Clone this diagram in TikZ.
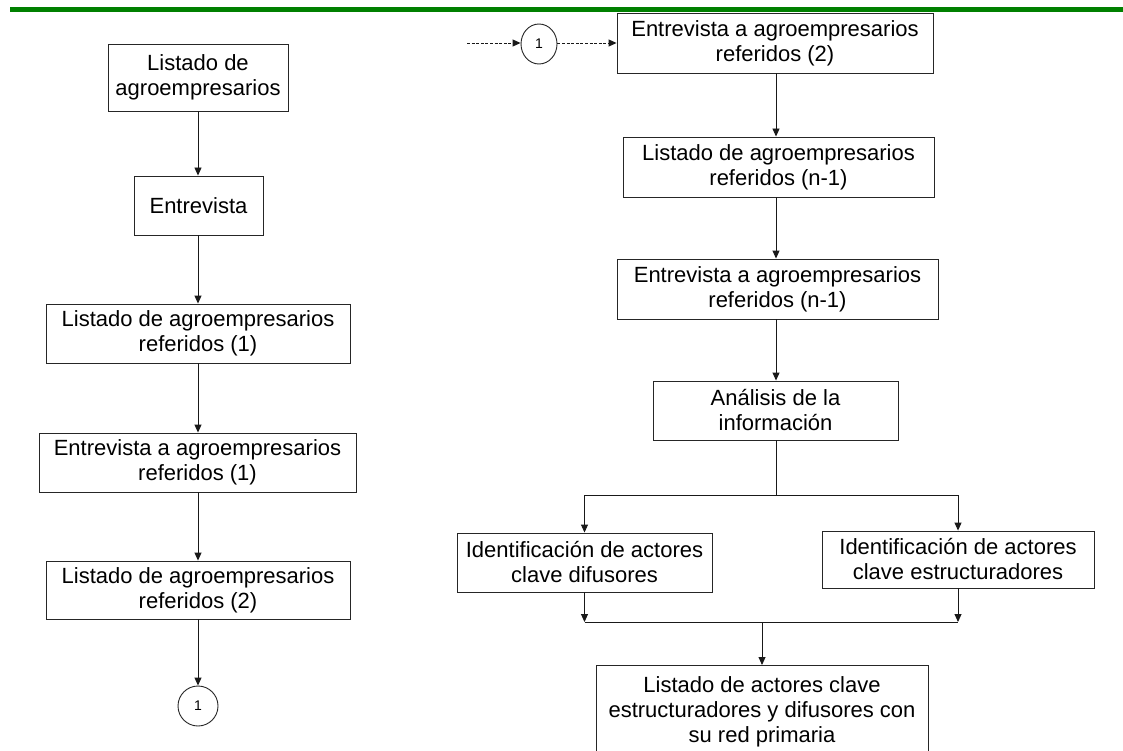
\documentclass[tikz,border=0pt]{standalone}
\usepackage{fontspec}
\setmainfont{Liberation Sans}
\usetikzlibrary{arrows.meta,shapes.geometric}
\definecolor{bandgreen}{RGB}{0,128,0}
\begin{document}
\begin{tikzpicture}[x=1pt,y=-1pt,
  box/.style={draw=black!85, line width=0.9pt, inner sep=0pt, align=center,
    font=\fontsize{22}{25}\selectfont},
  conn/.style={circle, draw=black!85, line width=0.9pt, inner sep=0pt,
    minimum size=40pt, font=\fontsize{14}{16}\selectfont},
  arr/.style={line width=0.9pt, draw=black!90, -{Triangle[length=8pt,width=7pt]}},
  plain/.style={line width=0.9pt, draw=black!90},
  dasharr/.style={arr, dash pattern=on 3pt off 1.6pt}]
\useasboundingbox (0,0) rectangle (1123,751);
\clip (0,0) rectangle (1123,751);
\fill[white] (0,0) rectangle (1123,751);

% header rule
\draw[bandgreen, line width=4.4pt] (10,9.5) -- (1123,9.5);

% left column
\node[box, minimum width=180pt, minimum height=67pt] (L1) at (198,77.5) {Listado de\\agroempresarios};
\node[box, minimum width=129pt, minimum height=59pt] (L2) at (198.5,205.5) {Entrevista};
\node[box, minimum width=304pt, minimum height=59pt] (L3) at (198,333.5) {Listado de agroempresarios\\referidos (1)};
\node[box, minimum width=317pt, minimum height=59pt] (L4) at (197.5,462.5) {Entrevista a agroempresarios\\referidos (1)};
\node[box, minimum width=304pt, minimum height=58pt] (L5) at (198,590) {Listado de agroempresarios\\referidos (2)};
\node[conn] (C1) at (198,706) {1};

\draw[arr] (L1.south) -- (L1.south |- L2.north);
\draw[arr] (L2.south -| L1.south) -- (L1.south |- L3.north);
\draw[arr] (L3.south) -- (L3.south |- L4.north);
\draw[arr] (L4.south -| L3.south) -- (L3.south |- L5.north);
\draw[arr] (L5.south) -- (C1.north);

% right column
\coordinate (din) at (467,43);
\node[conn, ellipse, minimum width=36pt, minimum height=40pt] (C2) at (539,44) {1};
\node[box, minimum width=316pt, minimum height=60pt] (R1) at (775,43) {Entrevista a agroempresarios\\referidos (2)};
\node[box, minimum width=311pt, minimum height=60pt] (R2) at (778.5,167) {Listado de agroempresarios\\referidos (n-1)};
\node[box, minimum width=321pt, minimum height=60pt] (R3) at (777.5,289) {Entrevista a agroempresarios\\referidos (n-1)};
\node[box, minimum width=245pt, minimum height=59pt] (R4) at (775.5,410.5) {Análisis de la\\información};
\node[box, minimum width=255pt, minimum height=59pt] (R5) at (584.5,562.5) {Identificación de actores\\clave difusores};
\node[box, minimum width=272pt, minimum height=57pt] (R6) at (958,559.5) {Identificación de actores\\clave estructuradores};
\node[box, anchor=north, minimum width=332pt, inner ysep=11pt] (R7) at (762,665)
  {Listado de actores clave\\estructuradores y difusores con\\su red primaria};

\draw[dasharr] (din) -- (din -| C2.west);
\draw[dasharr] (din -| C2.east) -- (din -| R1.west);

\coordinate (cx) at (776,0);
\draw[arr] (cx |- R1.south) -- (cx |- R2.north);
\draw[arr] (cx |- R2.south) -- (cx |- R3.north);
\draw[arr] (cx |- R3.south) -- (cx |- R4.north);

% split into the two identification steps
\coordinate (br) at (776,495);
\draw[plain] (cx |- R4.south) -- (br);
\draw[arr] (br) -| (R5.north);
\draw[arr] (br) -| (R6.north);

% merge towards the final list
\coordinate (mg) at (762,622);
\draw[arr] (R5.south) -- (R5.south |- mg);
\draw[arr] (R6.south) -- (R6.south |- mg);
\draw[plain] (R5.south |- mg) -- (R6.south |- mg);
\draw[arr] (mg) -- (R7.north);
\end{tikzpicture}
\end{document}
